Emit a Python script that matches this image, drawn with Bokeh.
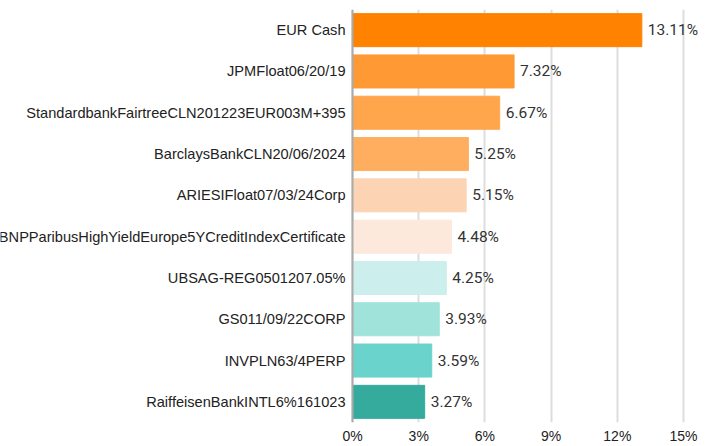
from bokeh.plotting import figure
from bokeh.models import ColumnDataSource, FactorRange, Range1d, Span, FixedTicker, PrintfTickFormatter
from bokeh.core.properties import value
from bokeh.embed import file_html
from bokeh.resources import INLINE

names = [
    "EUR Cash",
    "JPMFloat06/20/19",
    "StandardbankFairtreeCLN201223EUR003M+395",
    "BarclaysBankCLN20/06/2024",
    "ARIESIFloat07/03/24Corp",
    "BNPParibusHighYieldEurope5YCreditIndexCertificate",
    "UBSAG-REG0501207.05%",
    "GS011/09/22CORP",
    "INVPLN63/4PERP",
    "RaiffeisenBankINTL6%161023",
]
weights = [13.11, 7.32, 6.67, 5.25, 5.15, 4.48, 4.25, 3.93, 3.59, 3.27]
colors = ["#FF8200", "#FF9933", "#FFA64D", "#FFAE60", "#FCD4B3",
          "#FCE9DC", "#CCEEEC", "#9FE3DA", "#6AD3CB", "#35AB9E"]
tick_values = [0, 3, 6, 9, 12, 15]

src = ColumnDataSource(dict(
    names=names,
    weights=weights,
    colors=colors,
    labels=["%.2f%%" % w for w in weights],
    anchor=[0] * len(names),
))

# the x range extends to the left of 0 so the category names sit inside the frame
p = figure(
    width=706, height=446,
    y_range=FactorRange(factors=list(reversed(names))),
    x_range=Range1d(-15.95, 16.04),
    output_backend="svg", toolbar_location=None,
    min_border_left=0, min_border_right=0, min_border_top=9, min_border_bottom=21,
)
p.outline_line_color = None

p.hbar(y="names", right="weights", left=0, height=0.8, color="colors", source=src)

p.text(x="weights", y="names", text="labels", source=src,
       x_offset=6, text_align="left", text_baseline="middle",
       text_font=value("Roboto"), text_font_size="15.5px", text_color="#333333")

p.text(x="anchor", y="names", text="names", source=src,
       x_offset=-7, text_align="right", text_baseline="middle",
       text_font=value("Liberation Sans"), text_font_size="14.6px", text_color="#222222")

p.add_layout(Span(location=0, dimension="height", line_color="#aaaaaa", line_width=2))

p.yaxis.visible = False
p.ygrid.grid_line_color = None

p.xaxis.ticker = FixedTicker(ticks=tick_values)
p.xaxis.formatter = PrintfTickFormatter(format="%d%%")
p.xaxis.axis_line_color = None
p.xaxis.major_tick_line_color = None
p.xaxis.minor_tick_line_color = None
p.xaxis.major_tick_out = 0
p.xaxis.major_label_standoff = 5
p.xaxis.major_label_text_font = "Liberation Sans"
p.xaxis.major_label_text_font_size = "14px"
p.xaxis.major_label_text_color = "#222222"

p.xgrid.grid_line_color = "#dddddd"
p.xgrid.grid_line_width = 2

open("out.html", "w").write(file_html(p, INLINE))
